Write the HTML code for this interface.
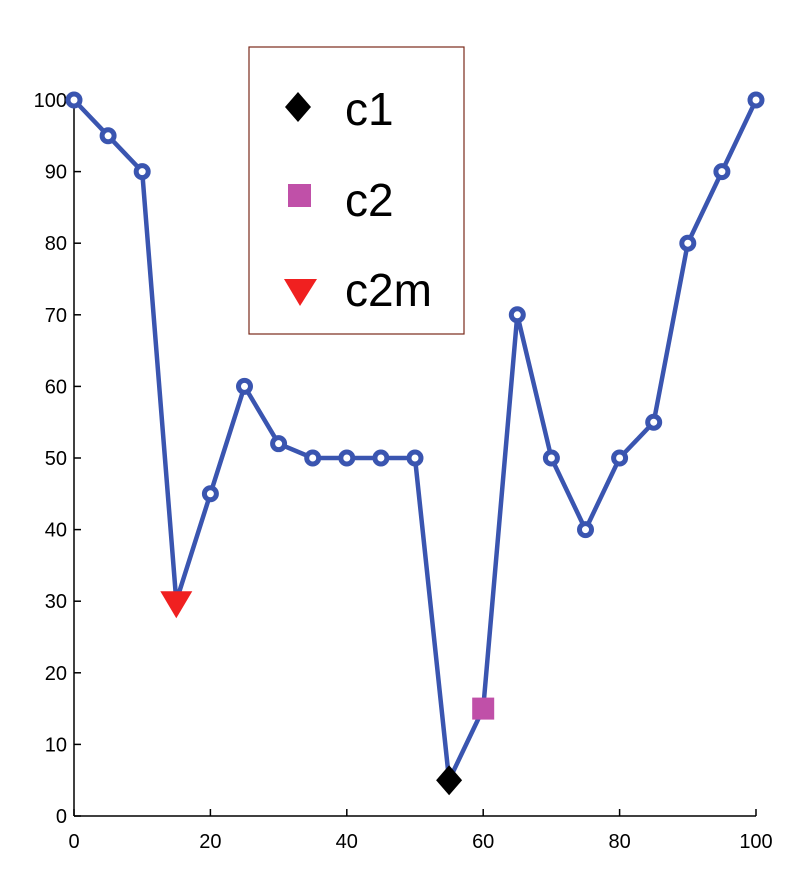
<!DOCTYPE html>
<html><head><meta charset="utf-8"><style>
body{margin:0;background:#fff;}
svg{display:block;font-family:"Liberation Sans",sans-serif;}
</style></head><body>
<svg id="chart" width="802" height="870" viewBox="0 0 802 870">
<g id="axes"></g>
<g id="plot"></g>
<g id="legend">
<rect x="249" y="47" width="215" height="287" fill="#fff" stroke="#7a2a1a" stroke-width="1.2"/>
<path d="M298 92 L311 107 L298 122 L285 107 Z" fill="#000"/>
<text x="345" y="125" font-size="46">c1</text>
<rect x="288" y="184" width="23" height="23" fill="#c050a8"/>
<text x="345" y="216" font-size="46">c2</text>
<path d="M284 279 L317 279 L300 306 Z" fill="#f02020"/>
<text x="345" y="306" font-size="46">c2m</text>
</g>
</svg>
<script>
const xValues=[0,5,10,15,20,25,30,35,40,45,50,55,60,65,70,75,80,85,90,95,100];
const yValues=[100,95,90,30,45,60,52,50,50,50,50,5,15,70,50,40,50,55,80,90,100];
const xTicks=[0,20,40,60,80,100];
const yTicks=[0,10,20,30,40,50,60,70,80,90,100];
const c1Point=[55,5];
const c2Point=[60,15];
const c2mPoint=[15,30];
const NS="http://www.w3.org/2000/svg";
const X0=74,X1=756,Y0=816,Y1=100;
function sx(v){return X0+(v-0)/100*(X1-X0);}
function sy(v){return Y0-(v-0)/100*(Y0-Y1);}
function mk(t,a,p){const e=document.createElementNS(NS,t);for(const k in a)e.setAttribute(k,a[k]);p.appendChild(e);return e;}
const axes=document.getElementById('axes'),plot=document.getElementById('plot');
let l=mk('line',{x1:X0,y1:Y0,x2:X1,y2:Y0,stroke:'#000','stroke-width':1.5},axes);


l=mk('line',{x1:X0,y1:Y0,x2:X0,y2:Y1,stroke:'#000','stroke-width':1.5},axes);


xTicks.forEach(v=>{const t=mk('text',{x:sx(v),y:848,'text-anchor':'middle','font-size':20,fill:'#000'},axes);t.textContent=v;


const k=mk('line',{x1:sx(v),y1:Y0,x2:sx(v),y2:Y0-7,stroke:'#000','stroke-width':1.5},axes);

});
yTicks.forEach(v=>{const t=mk('text',{x:67,y:sy(v)+7,'text-anchor':'end','font-size':20,fill:'#000'},axes);t.textContent=v;


const k=mk('line',{x1:X0,y1:sy(v),x2:X0+7,y2:sy(v),stroke:'#000','stroke-width':1.5},axes);

});
const pl=mk('polyline',{points:xValues.map((x,i)=>sx(x)+','+sy(yValues[i])).join(' '),fill:'none',stroke:'#3a55b0','stroke-width':4.5,'stroke-linejoin':'round'},plot);


const special=[c1Point[0],c2Point[0],c2mPoint[0]];
xValues.forEach((x,i)=>{if(special.includes(x))return;const c=mk('circle',{cx:sx(x),cy:sy(yValues[i]),r:6,fill:'#fff',stroke:'#3a55b0','stroke-width':5},plot);

});
let px=sx(c2mPoint[0]),py=sy(c2mPoint[1]);
let m=mk('path',{d:`M${px-16} ${py-10} L${px+16} ${py-10} L${px} ${py+17} Z`,fill:'#f02020'},plot);


px=sx(c2Point[0]);py=sy(c2Point[1]);
m=mk('rect',{x:px-11,y:py-11,width:22,height:22,fill:'#c050a8'},plot);


px=sx(c1Point[0]);py=sy(c1Point[1]);
m=mk('path',{d:`M${px} ${py-15} L${px+13} ${py} L${px} ${py+15} L${px-13} ${py} Z`,fill:'#000'},plot);


</script>
</body></html>
